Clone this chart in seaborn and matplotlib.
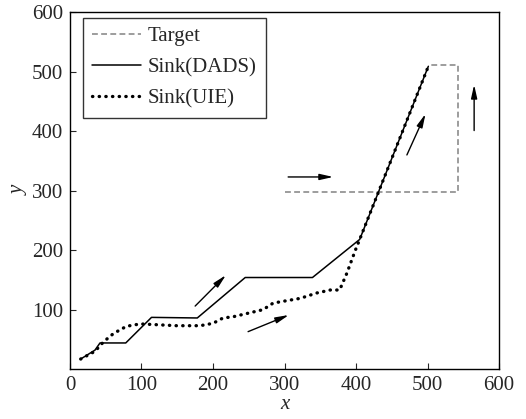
import numpy as np
import pandas as pd
import seaborn as sns
import matplotlib.pyplot as plt

# target trajectory (dashed)
target_x = [300, 543, 543, 500]
target_y = [298, 298, 512, 512]

# sink trajectory, DADS (solid)
dads_x = [15, 35, 42, 78, 114, 178, 245, 339, 405, 501]
dads_y = [17, 32, 44, 44, 87, 86, 154, 154, 218, 509]

# sink trajectory, UIE (dotted)
uie_x = [15, 35, 47, 61, 79, 98, 116, 149, 182, 200, 214, 228, 249, 270, 284,
         298, 322, 345, 364, 377, 387, 399, 405, 500]
uie_y = [17, 30, 46, 60, 72, 76, 75, 73, 73, 77, 86, 88, 94, 100, 111,
         114, 119, 128, 133, 133, 161, 200, 218, 506]

# direction arrows: (x_start, y_start, x_end, y_end)
arrows = [(175, 106, 218, 158),
          (249, 63, 306, 91),
          (305, 323, 368, 323),
          (471, 360, 497, 429),
          (565, 401, 565, 478)]

sns.set_style("ticks")
plt.rcParams['font.family'] = ['Liberation Serif', 'DejaVu Serif']

target = pd.DataFrame({"x": target_x, "y": target_y})
dads = pd.DataFrame({"x": dads_x, "y": dads_y})
uie = pd.DataFrame({"x": uie_x, "y": uie_y})

fig = plt.figure(figsize=(5.26, 4.19), dpi=100)
ax = fig.add_axes([0.133, 0.119, 0.816, 0.852])

sns.lineplot(x="x", y="y", data=target, sort=False, estimator=None, ax=ax,
             color="#8c8c8c", linewidth=1.2, linestyle=(0, (3.5, 2)),
             label="Target")
sns.lineplot(x="x", y="y", data=dads, sort=False, estimator=None, ax=ax,
             color="black", linewidth=1.1, label="Sink(DADS)")
sns.lineplot(x="x", y="y", data=uie, sort=False, estimator=None, ax=ax,
             color="black", linewidth=2.4, linestyle=(0, (0.1, 1.9)),
             dash_capstyle="round", label="Sink(UIE)")

for x0, y0, x1, y1 in arrows:
    ax.annotate("", xy=(x1, y1), xytext=(x0, y0),
                arrowprops=dict(arrowstyle="-|>,head_length=0.8,head_width=0.18",
                                color="black", lw=1.0, shrinkA=0, shrinkB=0))

ax.set_xlim(0, 600)
ax.set_ylim(0, 600)
ax.set_xticks(range(0, 601, 100))
ax.set_yticks(range(100, 601, 100))
ax.tick_params(direction="in", length=4, width=0.8, labelsize=15, pad=5)
for s in ax.spines.values():
    s.set_linewidth(1.0)
    s.set_color("black")
ax.set_xlabel("x", fontsize=15, style="italic", labelpad=0)
ax.set_ylabel("y", fontsize=15, style="italic", labelpad=2)

leg = ax.legend(loc="upper left", bbox_to_anchor=(0.03, 0.985), fontsize=15,
                frameon=True, fancybox=False, edgecolor="black",
                handlelength=2.35, labelspacing=0.55, borderpad=0.45,
                handletextpad=0.3, borderaxespad=0)
leg.get_frame().set_linewidth(1.0)

fig.savefig("out.png", dpi=100)
